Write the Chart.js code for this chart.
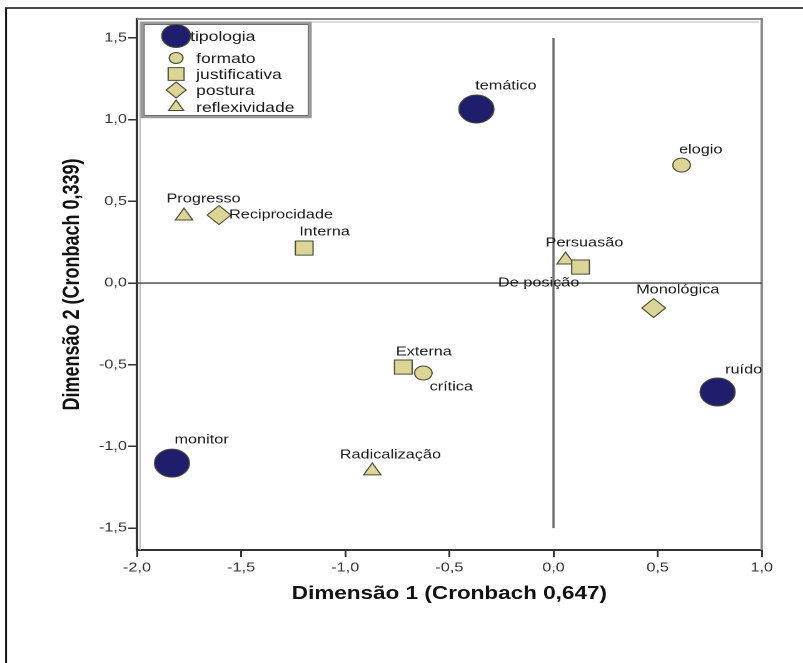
<!DOCTYPE html>
<html>
<head>
<meta charset="utf-8">
<script src="https://cdn.jsdelivr.net/npm/chart.js@4/dist/chart.umd.min.js"></script>
<style>
  html, body { margin: 0; padding: 0; background: #fff; overflow: hidden; }
  /* the original picture is stretched sideways, so the whole chart is drawn narrow and widened */
  #wrap { width: 642px; height: 663px; transform: scaleX(1.2508); transform-origin: 0 0; }
</style>
</head>
<body>
<div id="wrap"><canvas id="mapChart" width="642" height="663"></canvas></div>
<script>
// --- data ---
const seriesNames = ['tipologia', 'formato', 'justificativa', 'postura', 'reflexividade'];

const tipologiaLabels = ['temático', 'ruído', 'monitor'];
const tipologiaX = [-0.370, 0.788, -1.832];
const tipologiaY = [1.065, -0.667, -1.102];

const formatoLabels = ['elogio', 'crítica'];
const formatoX = [0.615, -0.625];
const formatoY = [0.722, -0.551];

const justificativaLabels = ['Interna', 'Externa', 'De posição'];
const justificativaX = [-1.197, -0.721, 0.130];
const justificativaY = [0.214, -0.514, 0.098];

const posturaLabels = ['Reciprocidade', 'Monológica'];
const posturaX = [-1.606, 0.481];
const posturaY = [0.416, -0.153];

const reflexividadeLabels = ['Progresso', 'Persuasão', 'Radicalização'];
const reflexividadeX = [-1.774, 0.058, -0.870];
const reflexividadeY = [0.410, 0.141, -1.150];

const xTitle = 'Dimensão 1 (Cronbach 0,647)';
const yTitle = 'Dimensão 2 (Cronbach 0,339)';
const xMin = -2.0, xMax = 1.0;
const yMin = -1.634, yMax = 1.616;
const tickStep = 0.5;

// --- layout / look ---
const FONT = '"Liberation Sans", Arial, sans-serif';
const NAVY = '#1e1e6c';
const TAN = '#dbd596';
const EDGE = '#4a4a38';

const seriesStyles = [
    { shape: 'circle',   radius: 14, fill: NAVY, legendRadius: 11.5 },
    { shape: 'circle',   radius: 7,  fill: TAN,  legendRadius: 5.5 },
    { shape: 'rect',     radius: 10, fill: TAN,  legendRadius: 9 },
    { shape: 'rectRot',  radius: 9.5, fill: TAN, legendRadius: 8 },
    { shape: 'triangle', radius: 8,  fill: TAN,  legendRadius: 7 }
];

// where each point label sits relative to its marker (unstretched px)
const labelOffsets = {
    'temático': [-1, -23], 'ruído': [6, -22], 'monitor': [2, -23],
    'elogio': [-2, -15], 'crítica': [5, 14],
    'Interna': [-4, -16], 'Externa': [-6, -15], 'De posição': [-66, 16],
    'Reciprocidade': [8, 0], 'Monológica': [-14, -18],
    'Progresso': [-14, -17], 'Persuasão': [-16, -17], 'Radicalização': [-26, -16]
};

const allLabels = [tipologiaLabels, formatoLabels, justificativaLabels, posturaLabels, reflexividadeLabels];
const allX = [tipologiaX, formatoX, justificativaX, posturaX, reflexividadeX];
const allY = [tipologiaY, formatoY, justificativaY, posturaY, reflexividadeY];

function fmt(v) {
    return Number(v).toFixed(1).replace('.', ',');
}

function drawMarker(ctx, shape, x, y, r, fill) {
    ctx.save();
    ctx.fillStyle = fill;
    ctx.strokeStyle = EDGE;
    ctx.lineWidth = 1;
    ctx.beginPath();
    if (shape === 'circle') {
        ctx.arc(x, y, r, 0, Math.PI * 2);
    } else if (shape === 'rect') {
        const s = r * Math.SQRT1_2;
        ctx.rect(x - s, y - s, 2 * s, 2 * s);
    } else if (shape === 'rectRot') {
        ctx.moveTo(x, y - r); ctx.lineTo(x + r, y); ctx.lineTo(x, y + r); ctx.lineTo(x - r, y);
        ctx.closePath();
    } else if (shape === 'triangle') {
        ctx.moveTo(x, y - r);
        ctx.lineTo(x + r * 0.866, y + r / 2);
        ctx.lineTo(x - r * 0.866, y + r / 2);
        ctx.closePath();
    }
    ctx.fill();
    ctx.stroke();
    ctx.restore();
}

const mapDecor = {
    id: 'mapDecor',
    beforeDraw(chart) {
        // outer picture frame (only left and top edges are visible)
        const ctx = chart.ctx;
        ctx.save();
        ctx.strokeStyle = '#111';
        ctx.lineWidth = 1.5;
        ctx.beginPath();
        ctx.moveTo(4.8, chart.height); ctx.lineTo(4.8, 8); ctx.lineTo(chart.width, 8);
        ctx.stroke();
        ctx.restore();
    },
    beforeDatasetsDraw(chart) {
        const { ctx, chartArea: a, scales: { x, y } } = chart;
        ctx.save();
        // plot frame
        ctx.strokeStyle = '#8a8a8a';
        ctx.lineWidth = 2;
        ctx.beginPath();
        ctx.moveTo(a.left, a.top); ctx.lineTo(a.right, a.top); ctx.lineTo(a.right, a.bottom);
        ctx.stroke();
        ctx.strokeStyle = '#b5b5b5';
        ctx.lineWidth = 1;
        ctx.beginPath();
        ctx.moveTo(a.left + 2.5, a.bottom); ctx.lineTo(a.left + 2.5, a.top + 3); ctx.lineTo(a.right - 2, a.top + 3);
        ctx.stroke();
        // zero reference lines
        const y0 = y.getPixelForValue(0);
        const x0 = x.getPixelForValue(0);
        ctx.strokeStyle = '#444';
        ctx.lineWidth = 1.4;
        ctx.beginPath();
        ctx.moveTo(a.left, y0); ctx.lineTo(a.right, y0);
        ctx.stroke();
        ctx.strokeStyle = '#6e6e6e';
        ctx.lineWidth = 1.8;
        ctx.beginPath();
        ctx.moveTo(x0, y.getPixelForValue(1.5)); ctx.lineTo(x0, y.getPixelForValue(-1.5));
        ctx.stroke();
        ctx.restore();
    },
    afterDatasetsDraw(chart) {
        const ctx = chart.ctx;
        ctx.save();
        ctx.font = '13px ' + FONT;
        ctx.fillStyle = '#1a1a1a';
        ctx.textAlign = 'left';
        ctx.textBaseline = 'middle';
        chart.data.datasets.forEach((ds, di) => {
            const meta = chart.getDatasetMeta(di);
            meta.data.forEach((pt, i) => {
                const name = allLabels[di][i];
                const off = labelOffsets[name] || [6, -14];
                ctx.fillText(name, pt.x + off[0], pt.y + off[1]);
            });
        });
        ctx.restore();
    },
    afterDraw(chart) {
        // legend box in the upper left corner of the plot
        const ctx = chart.ctx;
        const bx = 113.6, by = 23, bw = 134.4, bh = 94;
        ctx.save();
        ctx.fillStyle = '#fff';
        ctx.fillRect(bx, by, bw, bh);
        ctx.strokeStyle = '#9a9a9a';
        ctx.lineWidth = 2.5;
        ctx.strokeRect(bx, by, bw, bh);
        ctx.strokeStyle = '#555';
        ctx.lineWidth = 0.8;
        ctx.strokeRect(bx + 1.6, by + 1.6, bw - 3.2, bh - 3.2);
        const rowsY = [36, 58, 74, 90, 107];
        ctx.font = '14px ' + FONT;
        ctx.fillStyle = '#1a1a1a';
        ctx.textBaseline = 'middle';
        seriesNames.forEach((name, i) => {
            const st = seriesStyles[i];
            drawMarker(ctx, st.shape, 140.8, rowsY[i], st.legendRadius, st.fill);
            ctx.fillText(name, i === 0 ? 152 : 156.8, rowsY[i] + 1);
        });
        ctx.restore();
    }
};

const datasets = seriesNames.map((name, i) => ({
    label: name,
    data: allX[i].map((v, j) => ({ x: v, y: allY[i][j] })),
    pointStyle: seriesStyles[i].shape,
    pointRadius: seriesStyles[i].radius,
    pointHoverRadius: seriesStyles[i].radius,
    backgroundColor: seriesStyles[i].fill,
    borderColor: EDGE,
    borderWidth: 1,
    showLine: false
}));

const ctx = document.getElementById('mapChart').getContext('2d');
new Chart(ctx, {
    type: 'scatter',
    data: { datasets: datasets },
    options: {
        responsive: false,
        animation: false,
        devicePixelRatio: 2,
        layout: { padding: { top: 19, right: 33, bottom: 0, left: 0 } },
        plugins: {
            legend: { display: false },
            tooltip: { enabled: false }
        },
        scales: {
            x: {
                type: 'linear',
                min: xMin,
                max: xMax,
                afterFit: (s) => { s.height = 113; },
                ticks: {
                    stepSize: tickStep,
                    includeBounds: false,
                    callback: (v) => fmt(v),
                    font: { family: FONT, size: 13 },
                    color: '#333',
                    padding: 3,
                    maxRotation: 0
                },
                grid: { drawOnChartArea: false, drawTicks: true, tickLength: 7, color: '#333', lineWidth: 1.5 },
                border: { display: true, color: '#333', width: 2 },
                title: {
                    display: true,
                    text: xTitle,
                    color: '#111',
                    font: { family: FONT, size: 18, weight: 'bold' },
                    padding: { top: 0, bottom: 58 }
                }
            },
            y: {
                type: 'linear',
                min: yMin,
                max: yMax,
                afterFit: (s) => { s.width = 109.5; },
                ticks: {
                    stepSize: tickStep,
                    includeBounds: false,
                    callback: (v) => fmt(v),
                    font: { family: FONT, size: 13 },
                    color: '#333',
                    padding: 1
                },
                grid: { drawOnChartArea: false, drawTicks: true, tickLength: 7, color: '#333', lineWidth: 1.5 },
                border: { display: true, color: '#333', width: 2 },
                title: {
                    display: true,
                    text: yTitle,
                    color: '#111',
                    font: { family: FONT, size: 18, weight: 'bold' },
                    padding: { top: 47, bottom: 0 }
                }
            }
        }
    },
    plugins: [mapDecor]
});
</script>
</body>
</html>
